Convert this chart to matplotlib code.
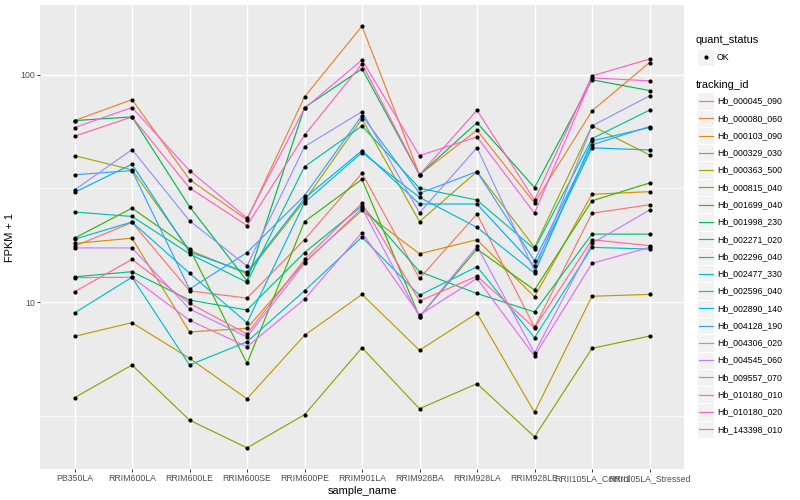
import numpy as np
import matplotlib
matplotlib.use('Agg')
import matplotlib.pyplot as plt
from matplotlib.patches import Rectangle
from matplotlib.ticker import NullFormatter

plt.rcParams['font.family'] = ['Liberation Sans', 'DejaVu Sans']

samples = ['PB350LA', 'RRIM600LA', 'RRIM600LE', 'RRIM600SE', 'RRIM600PE', 'RRIM901LA',
           'RRIM928BA', 'RRIM928LA', 'RRIM928LE', 'RRII105LA_Control', 'RRII105LA_Stressed']

tracking_ids = ['Hb_000045_090', 'Hb_000080_060', 'Hb_000103_090', 'Hb_000329_030',
                'Hb_000363_500', 'Hb_000815_040', 'Hb_001699_040', 'Hb_001998_230',
                'Hb_002271_020', 'Hb_002296_040', 'Hb_002477_330', 'Hb_002596_040',
                'Hb_002890_140', 'Hb_004128_190', 'Hb_004306_020', 'Hb_004545_060',
                'Hb_009557_070', 'Hb_010180_010', 'Hb_010180_020', 'Hb_143398_010']

# FPKM + 1 per sample
hb_000045_090 = [17.6, 22.4, 11.2, 10.4, 18.8, 36.9, 12.7, 24.4, 7.74, 24.6, 26.8]
hb_000080_060 = [62.9, 77.8, 34.6, 23.0, 80.0, 163.8, 36.3, 57.1, 27.3, 69.4, 113.3]
hb_000103_090 = [18.1, 19.1, 7.38, 7.66, 15.0, 25.3, 16.3, 18.8, 10.55, 29.8, 30.6]
hb_000329_030 = [7.06, 8.11, 5.65, 3.75, 7.13, 10.8, 6.13, 8.92, 3.27, 10.6, 10.8]
hb_000363_500 = [44.1, 38.2, 16.9, 13.3, 27.9, 64.0, 22.6, 37.5, 17.4, 59.6, 44.4]
hb_000815_040 = [3.79, 5.28, 3.02, 2.28, 3.19, 6.29, 3.39, 4.37, 2.55, 6.25, 7.08]
hb_001699_040 = [19.1, 25.9, 17.2, 5.37, 22.6, 34.7, 8.6, 17.1, 11.3, 27.9, 33.4]
hb_001998_230 = [62.9, 65.3, 26.3, 12.4, 71.8, 106.3, 36.3, 61.6, 31.9, 95.1, 85.3]
hb_002271_020 = [12.9, 13.6, 10.2, 9.22, 16.5, 26.5, 13.6, 10.9, 9.04, 19.9, 19.9]
hb_002296_040 = [24.9, 23.8, 16.3, 12.2, 39.4, 59.6, 31.7, 28.1, 17.1, 52.4, 69.9]
hb_002477_330 = [8.95, 12.85, 5.28, 6.68, 11.2, 19.3, 10.7, 14.3, 6.96, 17.4, 17.1]
hb_002596_040 = [18.9, 22.5, 13.4, 8.1, 27.4, 45.5, 28.9, 21.3, 13.4, 51.2, 58.6]
hb_002890_140 = [30.4, 40.4, 16.6, 13.5, 28.6, 46.4, 27.0, 27.0, 14.4, 47.7, 46.7]
hb_004128_190 = [36.3, 37.9, 11.4, 16.5, 29.4, 66.2, 30.1, 37.5, 15.2, 49.2, 59.2]
hb_004306_020 = [31.1, 46.9, 22.8, 14.4, 48.3, 68.9, 24.7, 47.8, 13.7, 59.6, 80.8]
hb_004545_060 = [17.3, 17.3, 9.32, 7.01, 14.8, 25.9, 8.61, 17.6, 5.96, 18.1, 25.4]
hb_009557_070 = [12.8, 12.85, 8.31, 6.35, 10.3, 20.2, 8.77, 12.7, 5.78, 14.8, 17.4]
hb_010180_010 = [58.6, 71.8, 37.9, 23.4, 71.1, 116.4, 44.1, 53.3, 24.6, 97.0, 94.1]
hb_010180_020 = [53.7, 65.3, 31.8, 21.7, 54.2, 111.8, 36.3, 69.9, 28.1, 99.0, 117.3]
hb_143398_010 = [11.1, 15.4, 9.87, 7.23, 15.4, 27.2, 10.1, 13.0, 7.7, 18.8, 17.7]

series = [hb_000045_090, hb_000080_060, hb_000103_090, hb_000329_030, hb_000363_500,
          hb_000815_040, hb_001699_040, hb_001998_230, hb_002271_020, hb_002296_040,
          hb_002477_330, hb_002596_040, hb_002890_140, hb_004128_190, hb_004306_020,
          hb_004545_060, hb_009557_070, hb_010180_010, hb_010180_020, hb_143398_010]


def hue_pal(n, c=100.0, l=65.0):
    """ggplot2-like default hue palette (polar LUV -> sRGB)"""
    hues = 15 + 360.0 / n * np.arange(n)
    Xn, Yn, Zn = 95.047, 100.0, 108.883
    un = 4 * Xn / (Xn + 15 * Yn + 3 * Zn)
    vn = 9 * Yn / (Xn + 15 * Yn + 3 * Zn)
    Y = Yn * ((l + 16) / 116) ** 3
    out = []
    for h in hues:
        u = c * np.cos(np.deg2rad(h))
        v = c * np.sin(np.deg2rad(h))
        up = u / (13 * l) + un
        vp = v / (13 * l) + vn
        X = 9 * Y * up / (4 * vp)
        Z = (12 - 3 * up - 20 * vp) * Y / (4 * vp)
        X, Yy, Z = X / 100, Y / 100, Z / 100
        r = 3.240479 * X - 1.537150 * Yy - 0.498535 * Z
        g = -0.969256 * X + 1.875992 * Yy + 0.041556 * Z
        b = 0.055648 * X - 0.204043 * Yy + 1.057311 * Z
        rgb = []
        for ch in (r, g, b):
            ch = 12.92 * ch if ch <= 0.0031308 else 1.055 * ch ** (1 / 2.4) - 0.055
            rgb.append(min(max(ch, 0), 1))
        out.append(tuple(rgb))
    return out


colors = hue_pal(len(tracking_ids))
xs = np.arange(len(samples))

fig = plt.figure(figsize=(8, 5), dpi=100)
ax = fig.add_axes([40 / 800, 31 / 500, 644 / 800, 464 / 500])
ax.set_facecolor('#EBEBEB')
ax.set_yscale('log')

ax.set_yticks([10, 100])
ax.set_yticklabels(['10', '100'])
ax.set_yticks([10 ** 0.5, 10 ** 1.5], minor=True)
ax.yaxis.set_minor_formatter(NullFormatter())
ax.set_xticks(xs)
ax.set_xticklabels(samples)
ax.set_xlim(-0.6, len(samples) - 0.4)
ax.set_ylim(1.84, 203)
ax.grid(which='major', color='white', lw=1.05)
ax.grid(which='minor', axis='y', color='white', lw=0.5)
ax.set_axisbelow(True)
for s in ax.spines.values():
    s.set_visible(False)
ax.tick_params(which='major', length=2, width=0.7, color='#333333',
               labelsize=6.3, labelcolor='#4D4D4D', pad=1.5)
ax.tick_params(which='minor', length=0)

for vals, col in zip(series, colors):
    ax.plot(xs, vals, color=col, lw=0.85, zorder=2)
for vals in series:
    ax.plot(xs, vals, 'o', color='black', ms=3.0, mew=0, zorder=3)

ax.set_xlabel('sample_name', fontsize=7.9, labelpad=2)
ax.set_ylabel('FPKM + 1', fontsize=7.9, labelpad=4)

# legend, drawn in pixel space
lg = fig.add_axes([0, 0, 1, 1])
lg.set_xlim(0, 800)
lg.set_ylim(500, 0)
lg.axis('off')

lg.text(696, 40, 'quant_status', fontsize=7.9, va='center')
lg.add_patch(Rectangle((697, 48.5), 17, 17, facecolor='#F2F2F2', edgecolor='white', lw=0.8))
lg.plot([705.5], [57], 'o', color='black', ms=3.0, mew=0)
lg.text(717, 57, 'OK', fontsize=6.3, va='center')

lg.text(696, 84.5, 'tracking_id', fontsize=7.9, va='center')
for i, (tid, col) in enumerate(zip(tracking_ids, colors)):
    yc = 101 + 17.28 * i
    lg.add_patch(Rectangle((697, yc - 8.64), 17, 17.28, facecolor='#F2F2F2',
                           edgecolor='white', lw=0.8))
    lg.plot([698.5, 712.5], [yc, yc], color=col, lw=0.85)
    lg.text(717, yc, tid, fontsize=6.3, va='center')

fig.savefig('out.png', dpi=100)
